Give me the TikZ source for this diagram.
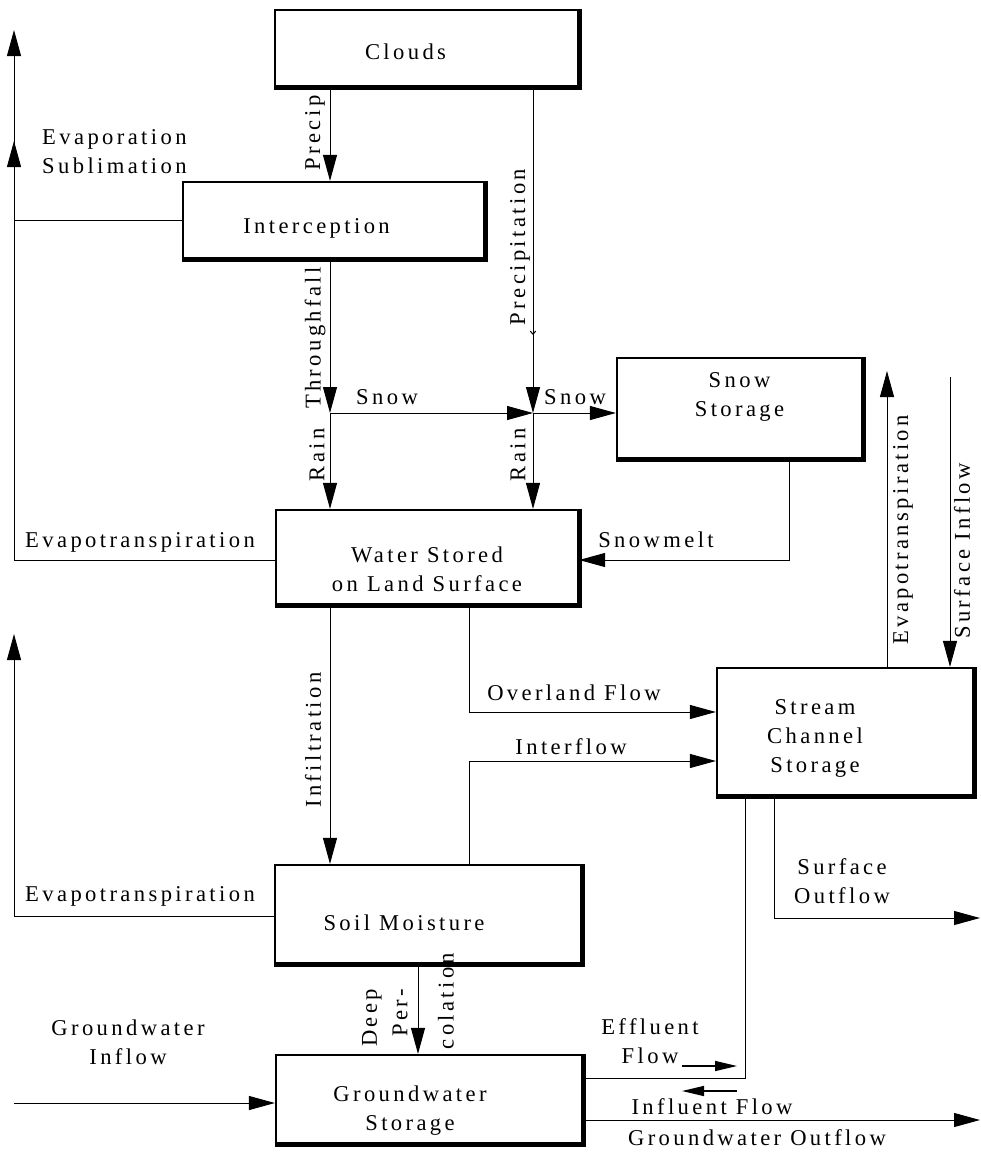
\documentclass[tikz,border=0pt]{standalone}
\usepackage{fontspec}
\setmainfont{Liberation Serif}[LetterSpace=15]
\usetikzlibrary{arrows.meta,decorations.markings}
\begin{document}
\begin{tikzpicture}[x=1pt,y=-1pt,
  bx/.style={draw, line width=2.2pt, inner sep=0pt},
  txt/.style={font=\fontsize{22.6}{29}\selectfont, inner sep=0pt, align=center},
  vt/.style={txt, rotate=90},
  flow/.style={line width=1pt, -{Triangle[length=26pt,width=14pt]}},
  smallflow/.style={line width=1.4pt, -{Triangle[length=22pt,width=10pt]}},
  plainline/.style={line width=1pt}]
\fill[white] (0,0) rectangle (981,1152);
\useasboundingbox (0,0) rectangle (981,1152);

% boxes
\node[bx, minimum width=303pt, minimum height=76pt,
  label={[txt,xshift=-21pt,yshift=-4pt]center:Clouds}] (clouds) at (426.5,48) {};
\node[bx, minimum width=301pt, minimum height=76pt,
  label={[txt,xshift=-17pt,yshift=-8pt]center:Interception}] (interception) at (333.5,220) {};
\node[bx, minimum width=245pt, minimum height=100pt,
  label={[txt,yshift=11pt]center:{Snow\\Storage}}] (snow) at (739.5,408) {};
\node[bx, minimum width=302pt, minimum height=94pt,
  label={[txt,yshift=-12pt]center:{Water Stored\\on Land Surface}}] (water) at (427,557) {};
\node[bx, minimum width=256pt, minimum height=127pt,
  label={[txt,xshift=-30pt,yshift=-7pt]center:{Stream\\Channel\\Storage}}] (stream) at (845,731.5) {};
\node[bx, minimum width=306pt, minimum height=98pt,
  label={[txt,xshift=-24pt,yshift=-9pt]center:Soil Moisture}] (soil) at (428,914) {};
\node[bx, minimum width=306pt, minimum height=88pt,
  label={[txt,xshift=-19pt,yshift=-12pt]center:{Groundwater\\Storage}}] (gw) at (429,1099) {};

% heavier right and bottom edges
\foreach \n in {clouds,interception,snow,water,stream,soil,gw}{
  \draw[line width=3.5pt] ([xshift=1pt]\n.north east) -- ([xshift=1pt,yshift=-1pt]\n.south east) -- ([yshift=-1pt]\n.south west);
}

% coordinates
\coordinate (xa) at (330,0);
\coordinate (xb) at (533,0);
\coordinate (j1) at (330,413);
\coordinate (j2) at (533,413);
\coordinate (e1) at (14,30);
\coordinate (e2) at (14,141);
\coordinate (e3) at (14,634);
\coordinate (ye2) at (0,560);
\coordinate (yse) at (0,916);
\coordinate (xs) at (789,0);
\coordinate (xo) at (469,0);
\coordinate (yov) at (0,712);
\coordinate (yiv) at (0,761);
\coordinate (xd) at (418,0);
\coordinate (gin) at (14,1103);
\coordinate (ef) at (745,1078);
\coordinate (so) at (774,0);
\coordinate (soe) at (980,918);
\coordinate (goe) at (980,1120);
\coordinate (ev) at (887,371);
\coordinate (si) at (950,377);
\coordinate (ea1) at (682,1066);
\coordinate (ea2) at (737,1066);
\coordinate (ia1) at (737,1091);
\coordinate (ia2) at (682,1091);

% connectors
\draw[flow] (clouds.south -| xa) -- (interception.north -| xa);
\draw[flow, postaction={decorate}, decoration={markings, mark=at position 0.76 with {\arrow{To[length=4pt,width=6pt]}}}] (clouds.south -| xb) -- (j2);
\draw[flow] (interception.south -| xa) -- (j1);
\draw[flow] (j1) -- (j2);
\draw[flow] (j1) -- (water.north -| xa);
\draw[flow] (j2) -- (water.north -| xb);
\draw[flow] (j2) -- (snow.west |- j2);
\draw[flow] (interception.west) -| (e1);
\draw[flow] (water.west |- ye2) -| (e2);
\draw[flow] (snow.south -| xs) |- (water.east |- ye2);
\draw[flow] (water.south -| xo) |- (stream.west |- yov);
\draw[flow] (soil.north -| xo) |- (stream.west |- yiv);
\draw[flow] (water.south -| xa) -- (soil.north -| xa);
\draw[flow] (soil.west |- yse) -| (e3);
\draw[flow] (soil.south -| xd) -- (gw.north -| xd);
\draw[flow] (gin) -- (gw.west |- gin);
\draw[plainline] (stream.south -| ef) -- (ef) -- (gw.east |- ef);
\draw[flow] (stream.south -| so) |- (soe);
\draw[flow] (gw.east |- goe) -- (goe);
\draw[flow] (stream.north -| ev) -- (ev);
\draw[flow] (si) -- (stream.north -| si);
\draw[smallflow] (ea1) -- (ea2);
\draw[smallflow] (ia1) -- (ia2);

% labels
\node[vt] (lprecip) at (315,133) {Precip};
\node[txt, align=left, anchor=west] (levap) at (42,152) {Evaporation\\Sublimation};
\node[vt] (lthrough) at (315,338) {Throughfall};
\node[txt] (lsnow1) at (387,397) {Snow};
\node[txt] (lsnow2) at (575,397) {Snow};
\node[vt] (lrain1) at (317,455) {Rain};
\node[vt] (lrain2) at (518,455) {Rain};
\node[vt] (lprecip2) at (520,247) {Precipitation};
\node[txt] (let1) at (140,542) {Evapotranspiration};
\node[txt] (lmelt) at (656,540) {Snowmelt};
\node[txt] (lover) at (574,693) {Overland Flow};
\node[txt] (linter) at (571,747) {Interflow};
\node[vt] (linf) at (313,740) {Infiltration};
\node[txt] (let2) at (140,896) {Evapotranspiration};
\node[vt] (ldeep) at (372,1018) {Deep};
\node[vt] (lper) at (400,1013) {Per-};
\node[vt] (lcol) at (446,1001) {colation};
\node[txt] (lgin) at (128,1042) {Groundwater\\Inflow};
\node[txt] (leff) at (650,1041) {Effluent\\Flow};
\node[txt] (linfl) at (712,1107) {Influent Flow};
\node[txt] (lgout) at (757,1138) {Groundwater Outflow};
\node[txt] (lsout) at (842,881) {Surface\\Outflow};
\node[vt] (let3) at (903,530) {Evapotranspiration};
\node[vt] (lsin) at (962,551) {Surface Inflow};
\end{tikzpicture}
\end{document}
